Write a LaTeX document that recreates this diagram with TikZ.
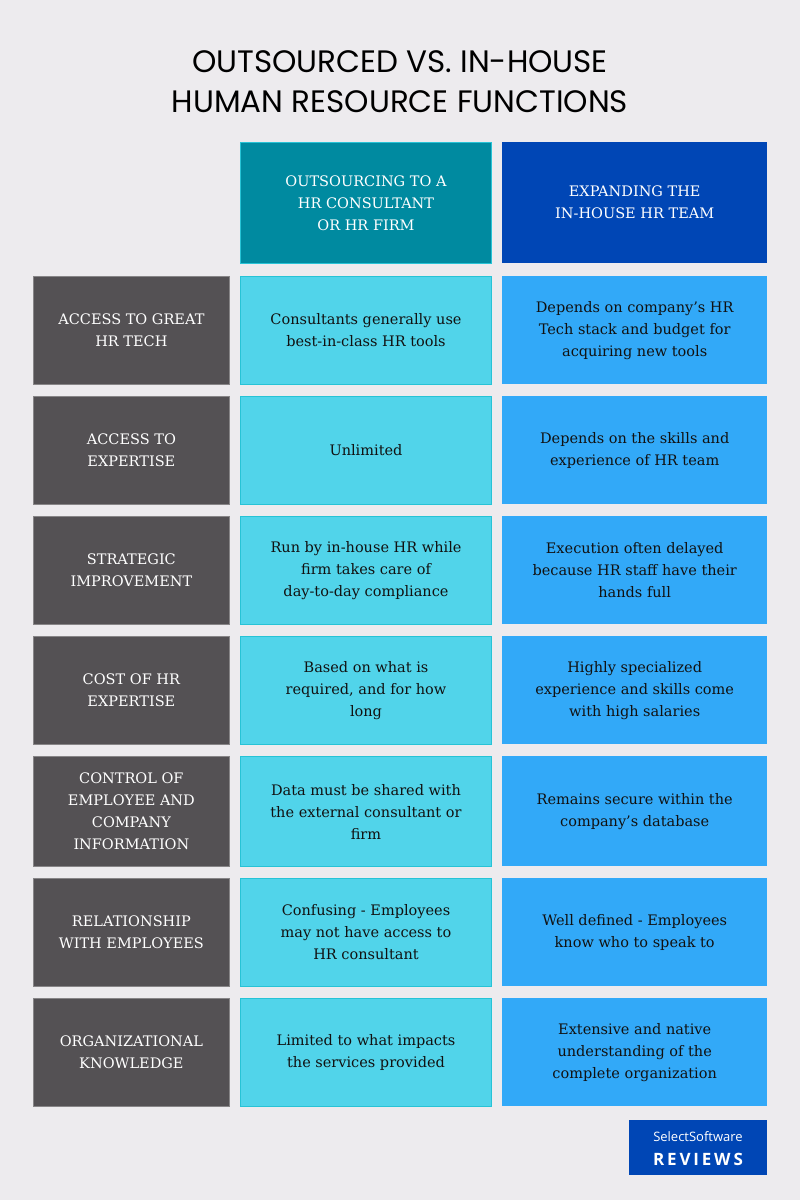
\documentclass[tikz,border=0pt]{standalone}
\usepackage{fontspec}
\setmainfont{DejaVu Serif}
\newfontfamily\titlefont{Poppins}
\newfontfamily\logofont{Open Sans}
\definecolor{bg}{HTML}{EDEBEE}
\definecolor{greyc}{HTML}{545154}
\definecolor{tealh}{HTML}{008AA0}
\definecolor{tealb}{HTML}{27C3D6}
\definecolor{cyanc}{HTML}{51D4EA}
\definecolor{blueh}{HTML}{0046B5}
\definecolor{bluec}{HTML}{32A9F8}
\definecolor{txt}{HTML}{111111}
\begin{document}
\begin{tikzpicture}[x=1pt,y=-1pt,
  cell/.style={inner sep=0pt,align=center,font=\fontsize{14.5}{22}\selectfont,anchor=north west},
  lab/.style={cell,fill=greyc,text=white,draw=greyc!70!white,line width=0.8pt},
  mid/.style={cell,fill=cyanc,draw=tealb,line width=1pt,text=txt},
  rgt/.style={cell,fill=bluec,text=txt}]
\fill[bg] (0,0) rectangle (800,1200);
\node[font=\titlefont\fontsize{31}{40}\selectfont,align=center,text=black] (title) at (400,82) {OUTSOURCED VS. IN-HOUSE\\HUMAN RESOURCE FUNCTIONS};
\node[cell,fill=tealh,draw=tealb,line width=1pt,text=white,minimum width=251pt,minimum height=121pt] (h1) at (240,142) {OUTSOURCING TO A\\HR CONSULTANT\\ OR HR FIRM};
\node[cell,fill=blueh,text=white,minimum width=265pt,minimum height=121pt] (h2) at (502,142) {EXPANDING THE\\IN-HOUSE HR TEAM};
\foreach \y/\h/\a/\b/\c [count=\i] in {
 276/108/{ACCESS TO GREAT\\HR TECH}/{Consultants generally use\\best-in-class HR tools}/{Depends on company's HR\\Tech stack and budget for\\acquiring new tools},
 396/108/{ACCESS TO\\EXPERTISE}/{Unlimited}/{Depends on the skills and\\experience of HR team},
 516/108/{STRATEGIC\\IMPROVEMENT}/{Run by in-house HR while\\firm takes care of\\day-to-day compliance}/{Execution often delayed\\because HR staff have their\\hands full},
 636/108/{COST OF HR\\EXPERTISE}/{Based on what is\\required, and for how\\long}/{Highly specialized\\experience and skills come\\with high salaries},
 756/110/{CONTROL OF\\EMPLOYEE AND\\COMPANY\\INFORMATION}/{Data must be shared with\\the external consultant or\\firm}/{Remains secure within the\\company's database},
 878/108/{RELATIONSHIP\\WITH EMPLOYEES}/{Confusing - Employees\\may not have access to\\HR consultant}/{Well defined - Employees\\know who to speak to},
 998/108/{ORGANIZATIONAL\\KNOWLEDGE}/{Limited to what impacts\\the services provided}/{Extensive and native\\understanding of the\\complete organization}}
{
 \node[lab,minimum width=196pt,minimum height=\h pt] (l\i) at (33,\y) {\a};
 \node[mid,minimum width=251pt,minimum height=\h pt] (m\i) at (240,\y) {\b};
 \node[rgt,minimum width=265pt,minimum height=\h pt] (r\i) at (502,\y) {\c};
}
\node[anchor=north west,fill=blueh,minimum width=138pt,minimum height=55pt,inner sep=0pt] (logo) at (629,1120) {};
\node[text=white,font=\logofont\fontsize{13}{14}\selectfont] (logo1) at (698,1137) {SelectSoftware};
\node[text=white,font=\logofont\bfseries\fontsize{17}{18}\selectfont] (logo2) at (698,1159) {R\,E\,V\,I\,E\,W\,S};
\end{tikzpicture}
\end{document}
